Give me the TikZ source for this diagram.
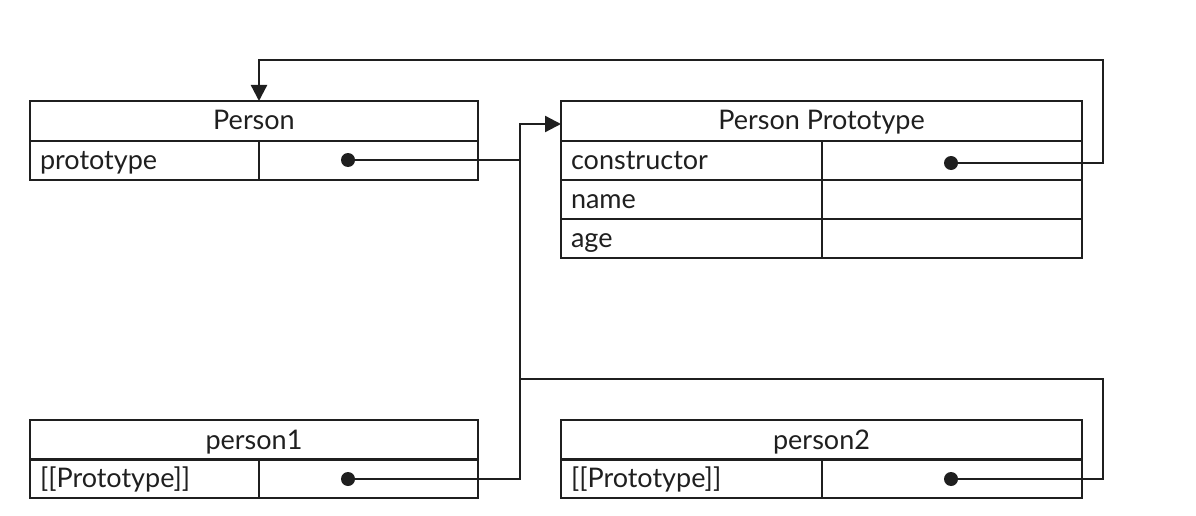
\documentclass[tikz,border=0pt]{standalone}
\usepackage{fontspec}
\setmainfont{Lato}
\usetikzlibrary{arrows.meta}
\tikzset{
    head/.style={draw, anchor=north west, minimum width=#1, minimum height=40pt, inner sep=0pt, outer sep=0pt, text height=21pt, text depth=3pt},
    keycell/.style={draw, anchor=north west, text width=#1, minimum height=39pt, inner xsep=10pt, inner ysep=0pt, outer sep=0pt, align=left, text height=21pt, text depth=3pt},
    valcell/.style={draw, anchor=north west, minimum width=#1, minimum height=39pt, inner sep=0pt, outer sep=0pt},
    dot/.style={circle, fill, minimum size=14pt, inner sep=0pt},
}
\begin{document}
\begin{tikzpicture}[>={Triangle[length=16pt,width=16pt]}, x=1pt, y=1pt, line width=2.3pt, color={black!88}, font=\fontsize{27}{32}\selectfont]
    \useasboundingbox (0,0) rectangle (1196,-516);
    % Person
    \node[head=448pt] (person) at (30,-101) {Person};
    \node[keycell=209pt] (pkey) at (30,-141) {prototype};
    \node[valcell=219pt] (pval) at (259,-141) {};
    \node[dot] (pdot) at (348,-160) {};
    % Person Prototype
    \node[head=521pt] (proto) at (561,-101) {Person Prototype};
    \node[keycell=241pt] (ckey) at (561,-141) {constructor};
    \node[valcell=260pt] (cval) at (822,-141) {};
    \node[keycell=241pt] (nkey) at (561,-180) {name};
    \node[valcell=260pt] (nval) at (822,-180) {};
    \node[keycell=241pt] (akey) at (561,-219) {age};
    \node[valcell=260pt] (aval) at (822,-219) {};
    \node[dot] (cdot) at (951,-163) {};
    % person1
    \node[head=448pt] (p1) at (30,-420) {person1};
    \node[keycell=209pt] (p1key) at (30,-459) {[[Prototype]]};
    \node[valcell=219pt] (p1val) at (259,-459) {};
    \node[dot] (p1dot) at (348,-479) {};
    % person2
    \node[head=521pt] (p2) at (561,-420) {person2};
    \node[keycell=241pt] (p2key) at (561,-459) {[[Prototype]]};
    \node[valcell=260pt] (p2val) at (822,-459) {};
    \node[dot] (p2dot) at (951,-479) {};

    \coordinate (lo) at (520,-479);
    \coordinate (hi) at (520,-124);
    \coordinate (top) at (1103,-60);
    \coordinate (mid) at (520,-379);

    \draw[->] (p1dot.center) -- (lo) -- (hi) -- (hi -| proto.west);
    \draw (pdot.center) -- (pdot -| hi);
    \draw[->] (cdot.center) -- (cdot -| top) -- (top) -- (top -| pkey.east) -- (pkey.east |- person.north);
    \draw (p2dot.center) -- (p2dot -| top) -- (top |- mid) -- (mid);
\end{tikzpicture}
\end{document}
